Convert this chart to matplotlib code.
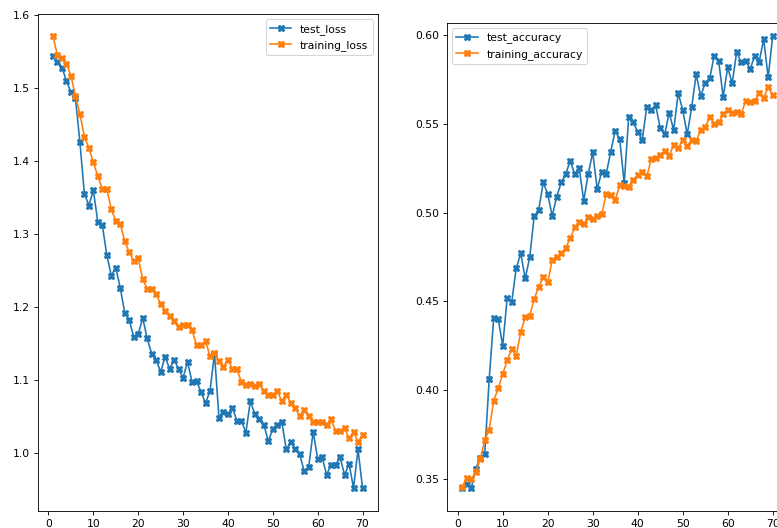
import matplotlib
matplotlib.use("Agg")
import matplotlib.pyplot as plt
import numpy as np

epochs = list(range(1, 71))

test_loss = [1.544, 1.536, 1.528, 1.510, 1.494, 1.487, 1.426, 1.355, 1.339, 1.360,
             1.316, 1.312, 1.271, 1.243, 1.254, 1.226, 1.192, 1.182, 1.159, 1.163,
             1.185, 1.157, 1.136, 1.128, 1.111, 1.132, 1.115, 1.128, 1.115, 1.103,
             1.125, 1.097, 1.098, 1.084, 1.068, 1.085, 1.136, 1.048, 1.056, 1.053,
             1.062, 1.044, 1.044, 1.028, 1.071, 1.053, 1.046, 1.039, 1.016, 1.033,
             1.039, 1.043, 1.005, 1.015, 1.006, 0.998, 0.975, 0.981, 1.029, 0.992,
             0.994, 0.970, 0.984, 0.984, 0.994, 0.970, 0.985, 0.952, 1.005, 0.952]

training_loss = [1.571, 1.545, 1.541, 1.533, 1.517, 1.489, 1.465, 1.433, 1.418, 1.398,
                 1.379, 1.362, 1.361, 1.334, 1.318, 1.314, 1.290, 1.275, 1.263, 1.267,
                 1.238, 1.225, 1.225, 1.218, 1.204, 1.195, 1.187, 1.181, 1.173, 1.175,
                 1.175, 1.168, 1.148, 1.148, 1.153, 1.133, 1.137, 1.126, 1.118, 1.128,
                 1.115, 1.115, 1.097, 1.093, 1.095, 1.092, 1.094, 1.085, 1.080, 1.080,
                 1.085, 1.071, 1.080, 1.069, 1.061, 1.051, 1.059, 1.051, 1.043, 1.043,
                 1.043, 1.039, 1.046, 1.030, 1.030, 1.034, 1.020, 1.029, 1.015, 1.025]

test_accuracy = [0.3450, 0.3472, 0.3448, 0.3558, 0.3618, 0.3639, 0.4065, 0.4408, 0.4401, 0.4251,
                 0.4521, 0.4497, 0.4686, 0.4771, 0.4630, 0.4748, 0.4981, 0.5015, 0.5170, 0.5105,
                 0.4981, 0.5090, 0.5170, 0.5217, 0.5292, 0.5217, 0.5251, 0.5067, 0.5217, 0.5340,
                 0.5133, 0.5230, 0.5217, 0.5343, 0.5461, 0.5414, 0.5165, 0.5537, 0.5508, 0.5456,
                 0.5409, 0.5593, 0.5578, 0.5604, 0.5478, 0.5441, 0.5563, 0.5465, 0.5673, 0.5579,
                 0.5441, 0.5593, 0.5780, 0.5655, 0.5732, 0.5756, 0.5882, 0.5852, 0.5653, 0.5818,
                 0.5728, 0.5906, 0.5846, 0.5855, 0.5809, 0.5882, 0.5849, 0.5977, 0.5762, 0.5994]

training_accuracy = [0.3457, 0.3504, 0.3500, 0.3538, 0.3613, 0.3718, 0.3778, 0.3941, 0.4011, 0.4090,
                     0.4168, 0.4234, 0.4193, 0.4329, 0.4410, 0.4419, 0.4514, 0.4583, 0.4636, 0.4607,
                     0.4733, 0.4748, 0.4771, 0.4802, 0.4855, 0.4917, 0.4945, 0.4936, 0.4973, 0.4962,
                     0.4983, 0.4992, 0.5103, 0.5099, 0.5071, 0.5155, 0.5151, 0.5146, 0.5184, 0.5210,
                     0.5230, 0.5204, 0.5300, 0.5309, 0.5324, 0.5349, 0.5321, 0.5381, 0.5362, 0.5409,
                     0.5377, 0.5409, 0.5405, 0.5465, 0.5480, 0.5540, 0.5500, 0.5508, 0.5555, 0.5578,
                     0.5563, 0.5568, 0.5555, 0.5630, 0.5623, 0.5630, 0.5675, 0.5647, 0.5705, 0.5662]

W, H = 777, 528
DPI = 77.7
fig = plt.figure(figsize=(W / DPI, H / DPI), dpi=DPI)

ax1 = fig.add_axes([37.5 / W, (H - 511) / H, 340.5 / W, (511 - 14) / H])
ax2 = fig.add_axes([446.7 / W, (H - 511) / H, 341.5 / W, (511 - 23) / H])

ax1.plot(epochs, test_loss, marker='X', label='test_loss')
ax1.plot(epochs, training_loss, marker='X', label='training_loss')
ax1.set_ylim(0.9205, 1.6014)
ax1.legend(loc='upper right')

ax2.plot(epochs, test_accuracy, marker='X', label='test_accuracy')
ax2.plot(epochs, training_accuracy, marker='X', label='training_accuracy')
ax2.set_ylim(0.332, 0.6068)
ax2.legend(loc='upper left')

fig.savefig("out.png", dpi=DPI)
